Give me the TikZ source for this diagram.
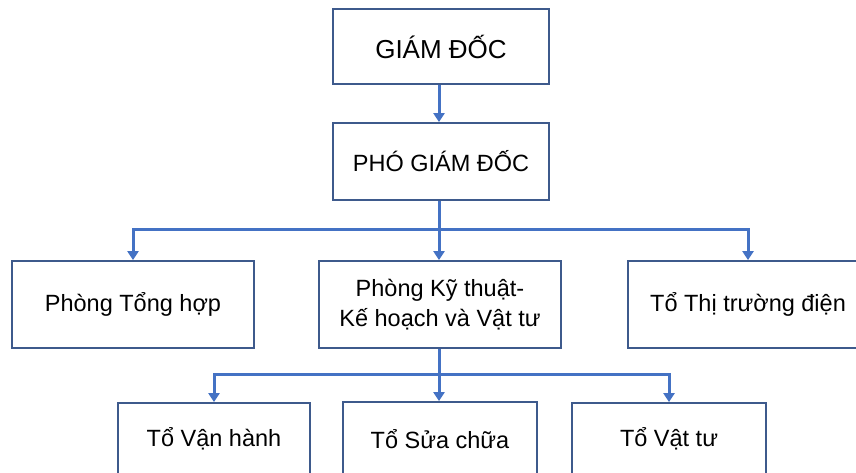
\documentclass[tikz,border=0pt]{standalone}
\usepackage{fontspec}
\setmainfont{Liberation Sans}
\usetikzlibrary{arrows.meta}
\definecolor{boxline}{HTML}{3E5A8C}
\definecolor{conn}{HTML}{4472C4}
\tikzset{
  box/.style={draw=boxline, line width=1.8pt, fill=white, align=center, inner sep=0pt,
    font=\fontsize{23.5}{30}\selectfont},
  conn/.style={draw=conn, line width=3pt},
  connarrow/.style={conn, -{Triangle[width=11pt,length=9pt]}}
}
\begin{document}
\begin{tikzpicture}[x=1pt,y=-1pt]
\useasboundingbox (0,0) rectangle (856,472);
\clip (0,0) rectangle (856,472);
\node[box, minimum width=216, minimum height=75, font=\fontsize{26}{30}\selectfont] (gd) at (441,46.5) {GIÁM ĐỐC};
\node[box, minimum width=216, minimum height=77] (pgd) at (441,161.5) {PHÓ GIÁM ĐỐC};
\node[box, minimum width=242, minimum height=87] (pth) at (133,304.5) {Phòng Tổng hợp};
\node[box, minimum width=242, minimum height=87] (pkt) at (440,304.5) {Phòng Kỹ thuật-\\Kế hoạch và Vật tư};
\node[box, minimum width=240, minimum height=87] (ttd) at (748,304.5) {Tổ Thị trường điện};
\node[box, minimum width=192, minimum height=72] (tvh) at (214,439) {Tổ Vận hành};
\node[box, minimum width=194, minimum height=74] (tsc) at (440,439) {Tổ Sửa chữa};
\node[box, minimum width=194, minimum height=72] (tvt) at (669,439) {Tổ Vật tư};
\coordinate (j1) at (439,229);
\coordinate (j2) at (439,374);
\draw[connarrow] (gd.south -| 439,0) -- (pgd.north -| 439,0);
\draw[conn] (pgd.south -| j1) -- (j1);
\draw[connarrow] (j1) -| (pth.north);
\draw[connarrow] (j1) -| (ttd.north);
\draw[connarrow] (j1) -- (pkt.north -| j1);
\draw[conn] (pkt.south -| j2) -- (j2);
\draw[connarrow] (j2) -| (tvh.north);
\draw[connarrow] (j2) -| (tvt.north);
\draw[connarrow] (j2) -- (tsc.north -| j2);
\end{tikzpicture}
\end{document}
